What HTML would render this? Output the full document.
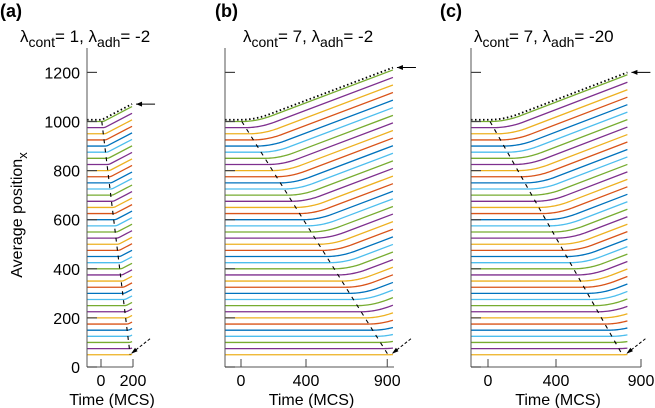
<!DOCTYPE html>
<html><head><meta charset="utf-8">
<style>
body{margin:0;background:#fff;}
svg{display:block;font-family:"Liberation Sans",sans-serif;}
</style></head>
<body>
<svg id="chart" width="655" height="408" viewBox="0 0 655 408" xmlns="http://www.w3.org/2000/svg">
<text x="0" y="17" font-size="18" font-weight="bold">(a)</text>
<text x="215" y="17" font-size="18" font-weight="bold">(b)</text>
<text x="440" y="17" font-size="18" font-weight="bold">(c)</text>
<text x="20" y="42" font-size="17">λ<tspan font-size="14" dy="5">cont</tspan><tspan dy="-5">= 1, λ</tspan><tspan font-size="14" dy="5">adh</tspan><tspan dy="-5">= -2</tspan></text>
<text x="243" y="42" font-size="17">λ<tspan font-size="14" dy="5">cont</tspan><tspan dy="-5">= 7, λ</tspan><tspan font-size="14" dy="5">adh</tspan><tspan dy="-5">= -2</tspan></text>
<text x="474" y="42" font-size="17">λ<tspan font-size="14" dy="5">cont</tspan><tspan dy="-5">= 7, λ</tspan><tspan font-size="14" dy="5">adh</tspan><tspan dy="-5">= -20</tspan></text>
<text transform="translate(22,215) rotate(-90)" text-anchor="middle" font-size="16">Average position<tspan font-size="13" dy="5">x</tspan></text>
<g id="plots"></g>
</svg>
<script>
const positions = [50,75,100,125,150,175,200,225,250,275,300,325,350,375,400,425,450,475,500,525,550,575,600,625,650,675,700,725,750,775,800,825,850,875,900,925,950,975,1000];
const breaksA = [182,178,173,169,164,160,155,150,146,141,137,132,127,123,118,114,109,104,100,95,91,86,81,77,72,68,63,58,54,49,44,40,35,31,26,21,17,12,5];
const breaksB = [905,880,857,832,810,785,762,738,715,690,667,643,620,596,572,548,525,500,477,453,430,405,382,358,335,310,287,263,240,215,192,168,145,120,97,73,50,27,5];
const breaksC = [790,770,750,729,709,688,668,647,627,606,586,565,545,524,504,483,463,442,422,401,381,360,340,319,299,278,258,237,217,196,176,155,135,114,94,73,53,33,12];
const yTicks = [0,200,400,600,800,1000,1200];
const xTicksA = [0,200];
const xTicksB = [0,400,900];
const xTicksC = [0,400,900];
const slopes = {a:0.34, b:0.25, c:0.265};
const colors = ['#77AC30','#7E2F8E','#EDB120','#D95319','#0072BD','#4DBEEE'];
const NS='http://www.w3.org/2000/svg';
const g=document.getElementById('plots');
function yScale(v){return 367-v*0.2455;}
function mk(tag,attrs,parent){const e=document.createElementNS(NS,tag);for(const k in attrs)e.setAttribute(k,attrs[k]);(parent||g).appendChild(e);return e;}
function traj(y0,tb,s,w,t){
 if(t<=tb) return y0;
 const d=t-tb;
 if(d<w) return y0+s*d*d/(2*w);
 return y0+s*(d-w/2);
}
const panels=[
 {id:'a',x0:87,x0t:101,k:0.16,tmin:-87,tend:194,axEnd:133,breaks:breaksA,xt:xTicksA,s:slopes.a,w:20,yl:true},
 {id:'b',x0:225,x0t:241,k:0.1625,tmin:-98,tend:935,axEnd:394,breaks:breaksB,xt:xTicksB,s:slopes.b,w:180,yl:false},
 {id:'c',x0:471,x0t:488,k:0.17,tmin:-100,tend:820,axEnd:641,breaks:breaksC,xt:xTicksC,s:slopes.c,w:180,yl:false}
];
panels.forEach(p=>{
 const X=t=>p.x0t+t*p.k;
 const pg=mk('g',{});
 
 
 const path=(y0,tb,off)=>{
  const pts=[`${X(p.tmin)},${yScale(y0+off)}`];
  const steps=24;
  for(let j=0;j<=steps;j++){
   const t=Math.min(p.tend,tb+p.w*j/steps);
   pts.push(`${X(t)},${yScale(traj(y0,tb,p.s,p.w,t)+off)}`);
  }
  pts.push(`${X(p.tend)},${yScale(traj(y0,tb,p.s,p.w,p.tend)+off)}`);
  return pts.join(' ');
 };
 positions.forEach((y0,i)=>{
  const pl=mk('polyline',{points:path(y0,p.breaks[i],0),fill:'none',stroke:colors[(38-i)%6],'stroke-width':1.3},pg);
  
  
 });
 const n=positions.length-1;
 const d=mk('line',{x1:X(p.breaks[n]),y1:yScale(positions[n]),x2:X(p.breaks[0]),y2:yScale(positions[0]),stroke:'#000','stroke-width':1.1,'stroke-dasharray':'4,5'},pg);
 
 
 const top=positions[n], tbT=p.breaks[n];
 const env=mk('polyline',{points:path(top,tbT-10,7),fill:'none',stroke:'#000','stroke-width':1.8,'stroke-dasharray':'1.5,2.5'},pg);
 
 
 const ay=yScale(traj(top,tbT,p.s,p.w,p.tend)+10), ax=X(p.tend)+4;
 const a1=mk('g',{},pg);
 
 
 mk('line',{x1:ax+19,y1:ay,x2:ax,y2:ay,stroke:'#000','stroke-width':1},a1);
 mk('polygon',{points:`${ax},${ay} ${ax+6},${ay-2.5} ${ax+6},${ay+2.5}`,fill:'#000'},a1);
 const bx=X(p.tend)-1, by=yScale(positions[0])-1;
 const a2=mk('g',{},pg);
 
 
 mk('line',{x1:bx+19,y1:by-15,x2:bx,y2:by,stroke:'#000','stroke-width':1,'stroke-dasharray':'3,2'},a2);
 mk('polygon',{points:`${bx},${by} ${bx+4},${by-6} ${bx+6.5},${by-2.5}`,fill:'#000'},a2);
 const ax1=mk('line',{x1:p.x0,y1:48,x2:p.x0,y2:yScale(0),stroke:'#555','stroke-width':1},pg);
 
 
 const ax2=mk('line',{x1:p.x0,y1:yScale(0),x2:p.axEnd,y2:yScale(0),stroke:'#555','stroke-width':1},pg);
 
 
 yTicks.forEach(v=>{
  const tk=mk('line',{x1:p.x0,y1:yScale(v),x2:p.x0+10,y2:yScale(v),stroke:'#444','stroke-width':1.2},pg);
  
  
  if(p.yl){
   const tx=mk('text',{x:p.x0-7,y:yScale(v)+6,'text-anchor':'end','font-size':16},pg);
   tx.textContent=v;
   
   
  }
 });
 p.xt.forEach(v=>{
  const tk=mk('line',{x1:X(v),y1:yScale(0),x2:X(v),y2:yScale(0)-8,stroke:'#444','stroke-width':1},pg);
  
  
  const tx=mk('text',{x:X(v),y:386,'text-anchor':'middle','font-size':16},pg);
  tx.textContent=v;
  
  
 });
 const xt=mk('text',{x:(p.x0+p.axEnd)/2+2,y:405,'text-anchor':'middle','font-size':16},pg);
 xt.textContent='Time (MCS)';
 
 
});
</script>
</body></html>
